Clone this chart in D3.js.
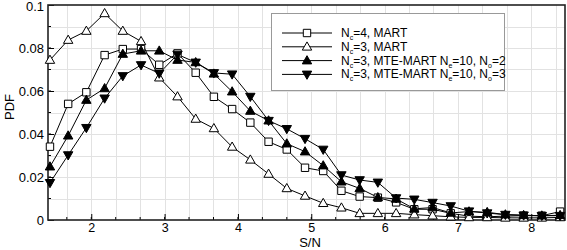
<!DOCTYPE html>
<html>
<head>
<meta charset="utf-8">
<script src="https://cdn.jsdelivr.net/npm/d3@7"></script>
<style>
  body { margin: 0; background: #fff; }
  svg { display: block; font-family: "Liberation Sans", Arial, sans-serif; }
  .grid line { stroke: #e2e2e2; stroke-width: 1; }
  path.curve { fill: none; stroke: #000; stroke-width: 1; }
</style>
</head>
<body>
<svg class="chart" width="567" height="250"></svg>
<script>
// S/N bin positions
var snValues = [1.437, 1.685, 1.933, 2.182, 2.430, 2.679, 2.927, 3.176, 3.424, 3.672,
                3.921, 4.169, 4.418, 4.666, 4.915, 5.163, 5.411, 5.660, 5.908, 6.157,
                6.405, 6.654, 6.902, 7.151, 7.399, 7.647, 7.896, 8.144, 8.393];

// PDF values per series
var nc4Mart = [0.0341, 0.0540, 0.0594, 0.0767, 0.0795, 0.0795, 0.0722, 0.0775, 0.0685, 0.0573,
               0.0516, 0.0453, 0.0364, 0.0328, 0.0243, 0.0228, 0.0136, 0.0109, 0.0104, 0.0082,
               0.0050, 0.0050, 0.0031, 0.0018, 0.0015, 0.0018, 0.0020, 0.0020, 0.0039];
var nc3Mart = [0.0744, 0.0837, 0.0879, 0.0961, 0.0879, 0.0831, 0.0662, 0.0574, 0.0470, 0.0426,
               0.0340, 0.0280, 0.0214, 0.0147, 0.0112, 0.0078, 0.0057, 0.0031, 0.0031, 0.0031,
               0.0025, 0.0020, 0.0015, 0.0012, 0.0012, 0.0010, 0.0010, 0.0010, 0.0012];
var nc3Mte2 = [0.0248, 0.0392, 0.0558, 0.0612, 0.0772, 0.0787, 0.0787, 0.0744, 0.0733, 0.0680,
               0.0597, 0.0507, 0.0462, 0.0355, 0.0318, 0.0253, 0.0178, 0.0147, 0.0105, 0.0098,
               0.0052, 0.0058, 0.0033, 0.0039, 0.0036, 0.0025, 0.0022, 0.0020, 0.0022];
var nc3Mte3 = [0.0173, 0.0302, 0.0429, 0.0566, 0.0670, 0.0721, 0.0682, 0.0770, 0.0733, 0.0684,
               0.0678, 0.0574, 0.0462, 0.0424, 0.0378, 0.0328, 0.0209, 0.0186, 0.0175, 0.0102,
               0.0096, 0.0081, 0.0065, 0.0041, 0.0032, 0.0025, 0.0022, 0.0020, 0.0020];

var xTicks = [2, 3, 4, 5, 6, 7, 8];
var yTicks = [0, 0.02, 0.04, 0.06, 0.08, 0.1];
var yTickLabels = ["0", "0.02", "0.04", "0.06", "0.08", "0.1"];

// legend labels as [text, "sub" or ""] pieces
var legendLabels = [
  [["N", ""], ["c", "sub"], ["=4, MART", ""]],
  [["N", ""], ["c", "sub"], ["=3, MART", ""]],
  [["N", ""], ["c", "sub"], ["=3, MTE-MART N", ""], ["e", "sub"], ["=10, N", ""], ["o", "sub"], ["=2", ""]],
  [["N", ""], ["c", "sub"], ["=3, MTE-MART N", ""], ["e", "sub"], ["=10, N", ""], ["o", "sub"], ["=3", ""]]
];

var series = [
  {values: nc4Mart, marker: "square", fill: "#fff"},
  {values: nc3Mart, marker: "triangle", fill: "#fff"},
  {values: nc3Mte2, marker: "triangle", fill: "#000"},
  {values: nc3Mte3, marker: "down", fill: "#000"}
];

var svg = d3.select("svg.chart");
var plot = {left: 48, right: 565, top: 5, bottom: 220};

var x = d3.scaleLinear().domain([1.41, 8.46]).range([plot.left, plot.right]);
var y = d3.scaleLinear().domain([0, 0.1]).range([plot.bottom, plot.top]);

// grid lines (every 1/3 in x, 0.01 in y)
var xGrid = d3.range(5, 26).map(function(d) { return d / 3; });
var yGrid = d3.range(1, 10).map(function(d) { return d / 100; });

var grid = svg.append("g").attr("class", "grid");
grid.selectAll("line.v").data(xGrid).enter().append("line")
  .attr("x1", function(d) { return Math.round(x(d)) + 0.5; })
  .attr("x2", function(d) { return Math.round(x(d)) + 0.5; })
  .attr("y1", plot.top).attr("y2", plot.bottom);
grid.selectAll("line.h").data(yGrid).enter().append("line")
  .attr("y1", function(d) { return Math.round(y(d)) + 0.5; })
  .attr("y2", function(d) { return Math.round(y(d)) + 0.5; })
  .attr("x1", plot.left).attr("x2", plot.right);

// axes with inward ticks
var xAxis = d3.axisBottom(x).tickValues(xTicks).tickSize(-6).tickPadding(3)
  .tickFormat(d3.format("d"));
var yAxis = d3.axisLeft(y).tickValues(yTicks).tickSize(-6).tickPadding(4)
  .tickFormat(function(d, i) { return yTickLabels[i]; });

var gx = svg.append("g").attr("transform", "translate(0," + plot.bottom + ")").call(xAxis);
var gy = svg.append("g").attr("transform", "translate(" + plot.left + ",0)").call(yAxis);

// minor ticks
svg.append("g").selectAll("line").data(xGrid).enter().append("line")
  .attr("x1", function(d) { return x(d); }).attr("x2", function(d) { return x(d); })
  .attr("y1", plot.bottom).attr("y2", plot.bottom - 3)
  .attr("stroke", "#000");
svg.append("g").selectAll("line").data(yGrid).enter().append("line")
  .attr("y1", function(d) { return y(d); }).attr("y2", function(d) { return y(d); })
  .attr("x1", plot.left).attr("x2", plot.left + 3)
  .attr("stroke", "#000");

[gx, gy].forEach(function(g) {
  g.select(".domain").remove();
  g.selectAll("text").attr("fill", "#000")
    .attr("font-family", "Liberation Sans, Arial, sans-serif");
  g.selectAll(".tick line").attr("stroke", "#000");
});
gx.selectAll("text").attr("font-size", 12.5);
gy.selectAll("text").attr("font-size", 13);
// keep the top label inside the picture
gy.selectAll(".tick text").filter(function(d) { return d === 0.1; }).attr("dy", "0.45em");

// frame
svg.append("rect")
  .attr("x", plot.left).attr("y", plot.top)
  .attr("width", plot.right - plot.left).attr("height", plot.bottom - plot.top)
  .attr("fill", "none").attr("stroke", "#222").attr("stroke-width", 1.6);

// axis titles
svg.append("text").attr("x", 310).attr("y", 247)
  .attr("text-anchor", "middle").attr("font-size", 13).text("S/N");
svg.append("text").attr("transform", "translate(14,107) rotate(-90)")
  .attr("text-anchor", "middle").attr("font-size", 13).text("PDF");

// marker shapes
function markerPath(type) {
  if (type === "square") return "M-3.7,-3.7H3.7V3.7H-3.7Z";
  if (type === "triangle") return "M0,-4.9L4.7,3.3H-4.7Z";
  return "M0,4.9L4.7,-3.3H-4.7Z";
}

var line = d3.line()
  .x(function(d, i) { return x(snValues[i]); })
  .y(function(d) { return y(d); });

var lines = svg.append("g");
series.forEach(function(s) {
  lines.append("path").datum(s.values).attr("class", "curve").attr("d", line);
});
series.forEach(function(s) {
  lines.append("g").selectAll("path").data(s.values).enter().append("path")
    .attr("d", markerPath(s.marker))
    .attr("transform", function(d, i) { return "translate(" + x(snValues[i]) + "," + y(d) + ")"; })
    .style("fill", s.fill).style("stroke", "#000").style("stroke-width", 1);
});

// legend
var legend = svg.append("g");
legend.append("rect").attr("x", 271.5).attr("y", 13.5).attr("width", 233).attr("height", 77)
  .attr("fill", "#fff").attr("stroke", "#999").attr("stroke-width", 1);

legendLabels.forEach(function(parts, i) {
  var ly = 33 + i * 13.8;
  legend.append("line").attr("x1", 282).attr("x2", 332).attr("y1", ly).attr("y2", ly)
    .attr("stroke", "#000");
  legend.append("path").attr("d", markerPath(series[i].marker))
    .attr("transform", "translate(307," + ly + ")")
    .style("fill", series[i].fill).style("stroke", "#000");
  var t = legend.append("text").attr("x", 341).attr("y", ly + 4).attr("font-size", 12);
  var shifted = false;
  parts.forEach(function(p) {
    var span = t.append("tspan").text(p[0]);
    if (p[1] === "sub") {
      span.attr("font-size", 7).attr("dy", 3);
      shifted = true;
    } else if (shifted) {
      span.attr("dy", -3);
      shifted = false;
    }
  });
});
</script>
</body>
</html>
